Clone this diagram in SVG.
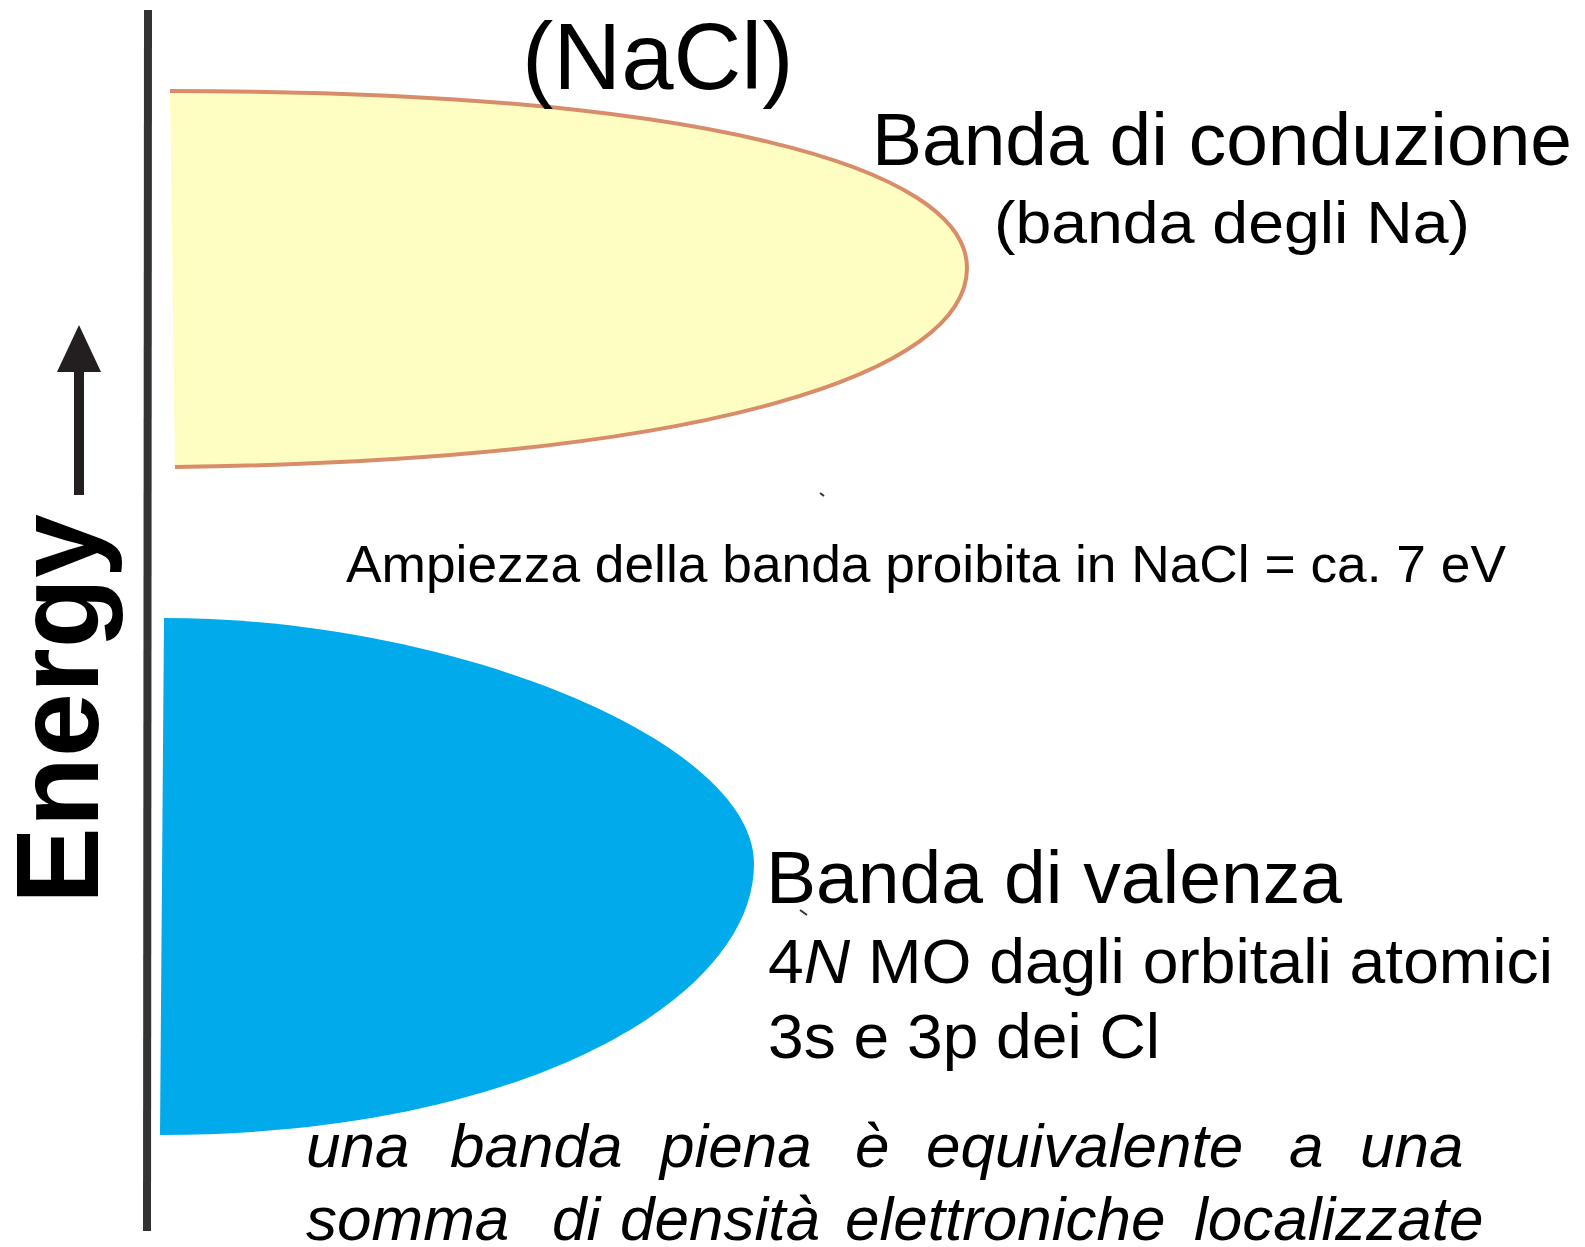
<svg xmlns="http://www.w3.org/2000/svg" width="1585" height="1247" viewBox="0 0 1585 1247">
<style>
.t{font-family:"Liberation Sans",Arial,sans-serif;fill:#000}
.it{font-style:italic}
</style>
<rect width="1585" height="1247" fill="#fff"/>
<g id="axis">
<line x1="148" y1="10" x2="147" y2="1231" stroke="#333" stroke-width="8"/>
<text class="t" transform="translate(98,904) rotate(-90)" font-size="116" font-weight="bold" fill="#231f20" textLength="390" lengthAdjust="spacingAndGlyphs">Energy</text>
<g id="energy-arrow" fill="#231f20">
<rect x="74" y="368" width="10" height="127"/>
<path d="M79,325 L101,372 L57,372 z"/>
</g>
</g>
<g id="conduction-band">
<path d="M170,91 C700,91 967,167 967,268 C967,370 720,460 175,467 Z" fill="#fffec2"/>
<path d="M170,91 C700,91 967,167 967,268 C967,370 720,460 175,467" fill="none" stroke="#d88c6a" stroke-width="4"/>
</g>
<g id="valence-band">
<path d="M164,618 C450,618 754,740 754,864 C754,1000 520,1135 160,1135 Z" fill="#00aaeb"/>
</g>
<g id="labels">
<text class="t" x="522" y="89" font-size="94">(NaCl)</text>
<text class="t" x="872" y="165" font-size="74" textLength="700" lengthAdjust="spacingAndGlyphs">Banda di conduzione</text>
<text class="t" x="994" y="243" font-size="60" textLength="476" lengthAdjust="spacingAndGlyphs">(banda degli Na)</text>
<text class="t" x="346" y="582" font-size="52" textLength="1160" lengthAdjust="spacingAndGlyphs">Ampiezza della banda proibita in NaCl = ca. 7 eV</text>
<text class="t" x="766" y="903" font-size="74" textLength="576" lengthAdjust="spacingAndGlyphs">Banda di valenza</text>
<text class="t" x="768" y="983" font-size="63" textLength="785" lengthAdjust="spacingAndGlyphs">4<tspan class="it">N</tspan> MO dagli orbitali atomici</text>
<text class="t" x="768" y="1058" font-size="63" textLength="392" lengthAdjust="spacingAndGlyphs">3s e 3p dei Cl</text>
<text class="t it" y="1167" font-size="62"><tspan x="306">una</tspan><tspan x="450">banda</tspan><tspan x="660">piena</tspan><tspan x="855">è</tspan><tspan x="926">equivalente</tspan><tspan x="1289">a</tspan><tspan x="1360">una</tspan></text>
<text class="t it" y="1240" font-size="62"><tspan x="306">somma</tspan><tspan x="552">di</tspan><tspan x="620">densità</tspan><tspan x="845">elettroniche</tspan><tspan x="1194">localizzate</tspan></text>
</g>
<g id="marks" stroke="#333" stroke-width="2">
<line x1="820" y1="493" x2="824" y2="496"/>
<line x1="800" y1="910" x2="807" y2="915"/>
</g>
</svg>
